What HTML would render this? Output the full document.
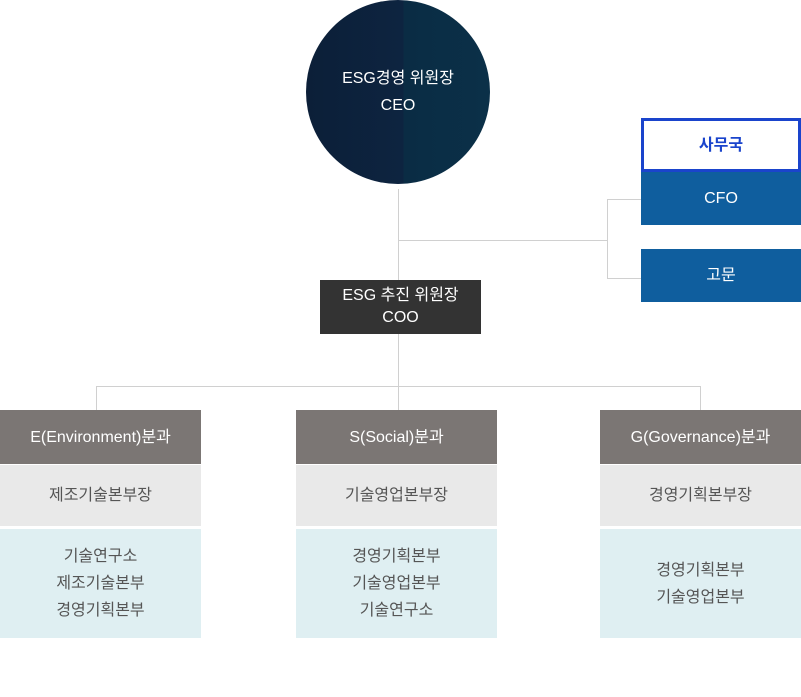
<!DOCTYPE html>
<html><head><meta charset="utf-8"><style>
body{margin:0;width:801px;height:697px;background:#fff;position:relative;overflow:hidden;font-family:"Liberation Sans","Noto Sans CJK KR",sans-serif;}
.a{position:absolute;box-sizing:border-box;display:flex;align-items:center;justify-content:center;text-align:center;font-size:16px;line-height:27px;}
.l{position:absolute;background:#d0d0d0;}
.h{background:#7b7674;color:#fff;}
.g{background:#e9e9e9;color:#555;}
.b{background:#dfeff2;color:#555;}
</style></head><body>
<div class="a" style="left:306px;top:0;width:184px;height:184px;border-radius:50%;background:linear-gradient(90deg,#0c1f38 0%,#0d2440 53%,#0a2c44 53%,#0b3048 100%);color:#fff;line-height:27px">ESG경영 위원장<br>CEO</div>
<div class="l" style="left:398px;top:189px;width:1px;height:91px"></div>
<div class="l" style="left:398px;top:240px;width:210px;height:1px"></div>
<div class="l" style="left:607px;top:199px;width:1px;height:80px"></div>
<div class="l" style="left:607px;top:199px;width:34px;height:1px"></div>
<div class="l" style="left:607px;top:278px;width:34px;height:1px"></div>
<div class="a" style="left:641px;top:118px;width:160px;height:54px;border:3px solid #1a44cc;color:#1a44cc;font-weight:bold">사무국</div>
<div class="a" style="left:641px;top:172px;width:160px;height:53px;background:#0f5e9e;color:#fff">CFO</div>
<div class="a" style="left:641px;top:249px;width:160px;height:53px;background:#0f5e9e;color:#fff">고문</div>
<div class="a" style="left:320px;top:280px;width:161px;height:54px;background:#333;color:#fff;line-height:22px">ESG 추진 위원장<br>COO</div>
<div class="l" style="left:398px;top:334px;width:1px;height:76px"></div>
<div class="l" style="left:96px;top:386px;width:605px;height:1px"></div>
<div class="l" style="left:96px;top:386px;width:1px;height:24px"></div>
<div class="l" style="left:700px;top:386px;width:1px;height:24px"></div>

<div class="a h" style="left:0;top:410px;width:201px;height:54px">E(Environment)분과</div>
<div class="a g" style="left:0;top:465px;width:201px;height:61px">제조기술본부장</div>
<div class="a b" style="left:0;top:529px;width:201px;height:109px">기술연구소<br>제조기술본부<br>경영기획본부</div>

<div class="a h" style="left:296px;top:410px;width:201px;height:54px">S(Social)분과</div>
<div class="a g" style="left:296px;top:465px;width:201px;height:61px">기술영업본부장</div>
<div class="a b" style="left:296px;top:529px;width:201px;height:109px">경영기획본부<br>기술영업본부<br>기술연구소</div>

<div class="a h" style="left:600px;top:410px;width:201px;height:54px">G(Governance)분과</div>
<div class="a g" style="left:600px;top:465px;width:201px;height:61px">경영기획본부장</div>
<div class="a b" style="left:600px;top:529px;width:201px;height:109px">경영기획본부<br>기술영업본부</div>
</body></html>
